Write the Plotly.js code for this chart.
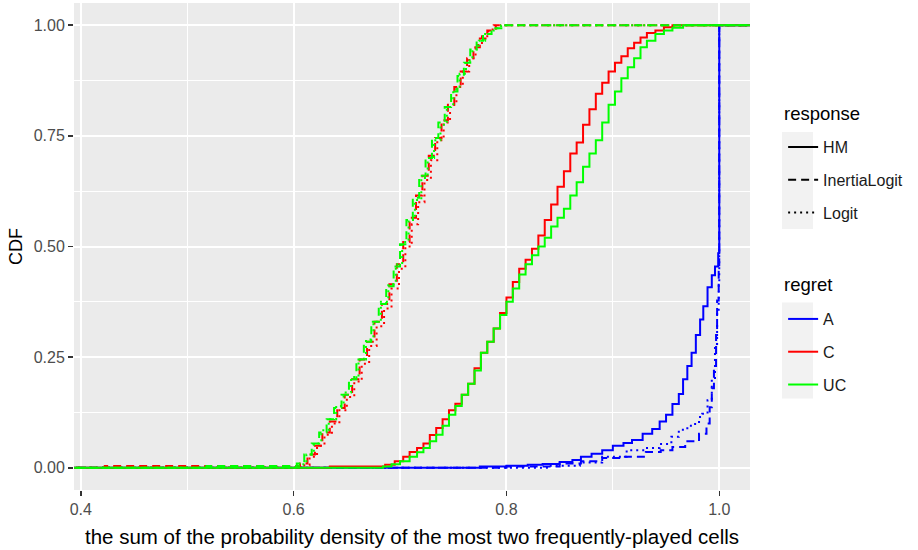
<!DOCTYPE html>
<html>
<head>
<meta charset="utf-8">
<script src="https://cdn.plot.ly/plotly-3.0.1.min.js"></script>
<style>html,body{margin:0;padding:0;background:#fff;}#chart{width:918px;height:550px;}</style>
</head>
<body>
<div id="chart"></div>
<script>
// ---- data (ECDF knots) ----
const responseLevels = ["HM", "InertiaLogit", "Logit"];
const regretLevels = ["A", "C", "UC"];
const xTickVals = [0.4, 0.6, 0.8, 1.0];
const xTickText = ["0.4", "0.6", "0.8", "1.0"];
const yTickVals = [0, 0.25, 0.5, 0.75, 1];
const yTickText = ["0.00", "0.25", "0.50", "0.75", "1.00"];

// A (blue)
const A_HM_x = [0.775, 0.800, 0.820, 0.834, 0.850, 0.862, 0.870, 0.880, 0.890, 0.900, 0.910, 0.918, 0.928, 0.937, 0.944, 0.950, 0.956, 0.962, 0.966, 0.970, 0.974, 0.978, 0.982, 0.985, 0.989, 0.993, 0.996, 0.999, 1.000];
const A_HM_y = [0.003, 0.005, 0.007, 0.009, 0.013, 0.018, 0.025, 0.032, 0.040, 0.050, 0.056, 0.063, 0.077, 0.088, 0.105, 0.120, 0.144, 0.167, 0.200, 0.230, 0.260, 0.300, 0.335, 0.365, 0.408, 0.435, 0.455, 0.485, 1.000];
const A_IL_x = [0.800, 0.850, 0.870, 0.890, 0.910, 0.931, 0.945, 0.956, 0.968, 0.981, 0.988, 0.991, 0.993, 0.995, 0.997, 0.998, 0.9995, 1.000];
const A_IL_y = [0.003, 0.010, 0.015, 0.022, 0.025, 0.036, 0.040, 0.047, 0.060, 0.077, 0.100, 0.137, 0.180, 0.227, 0.300, 0.378, 0.450, 1.000];
const A_LG_x = [0.840, 0.869, 0.890, 0.913, 0.930, 0.944, 0.955, 0.962, 0.970, 0.975, 0.981, 0.984, 0.989, 0.993, 0.996, 0.998, 0.9995, 1.000];
const A_LG_y = [0.005, 0.012, 0.025, 0.040, 0.045, 0.054, 0.070, 0.086, 0.095, 0.099, 0.115, 0.122, 0.153, 0.200, 0.280, 0.350, 0.420, 1.000];

// C (red)
const C_HM_x = [0.634, 0.686, 0.695, 0.703, 0.709, 0.716, 0.722, 0.728, 0.734, 0.740, 0.746, 0.752, 0.758, 0.764, 0.770, 0.776, 0.782, 0.788, 0.794, 0.800, 0.806, 0.812, 0.818, 0.824, 0.830, 0.836, 0.842, 0.848, 0.854, 0.860, 0.866, 0.872, 0.878, 0.884, 0.890, 0.896, 0.902, 0.908, 0.914, 0.920, 0.926, 0.932, 0.940, 0.948, 0.956];
const C_HM_y = [0.003, 0.007, 0.015, 0.025, 0.036, 0.045, 0.055, 0.074, 0.090, 0.110, 0.130, 0.145, 0.165, 0.190, 0.225, 0.260, 0.285, 0.315, 0.350, 0.385, 0.420, 0.450, 0.470, 0.495, 0.525, 0.560, 0.595, 0.635, 0.670, 0.710, 0.735, 0.775, 0.810, 0.845, 0.870, 0.895, 0.915, 0.930, 0.948, 0.960, 0.972, 0.982, 0.988, 0.995, 1.000];
const C_IL_x = [0.4225, 0.606, 0.613, 0.620, 0.627, 0.634, 0.641, 0.648, 0.655, 0.662, 0.669, 0.676, 0.683, 0.690, 0.697, 0.703, 0.709, 0.715, 0.721, 0.727, 0.733, 0.739, 0.745, 0.751, 0.757, 0.763, 0.769, 0.775, 0.782, 0.790];
const C_IL_y = [0.004, 0.010, 0.030, 0.050, 0.080, 0.105, 0.135, 0.165, 0.200, 0.245, 0.285, 0.330, 0.370, 0.415, 0.460, 0.510, 0.565, 0.615, 0.660, 0.705, 0.745, 0.785, 0.820, 0.860, 0.895, 0.925, 0.950, 0.970, 0.988, 1.000];
const C_LG_x = [0.608, 0.615, 0.622, 0.629, 0.636, 0.643, 0.650, 0.657, 0.664, 0.671, 0.678, 0.685, 0.692, 0.699, 0.705, 0.711, 0.717, 0.723, 0.729, 0.735, 0.741, 0.747, 0.753, 0.759, 0.765, 0.771, 0.777, 0.783, 0.788];
const C_LG_y = [0.006, 0.025, 0.050, 0.075, 0.100, 0.130, 0.160, 0.195, 0.235, 0.275, 0.320, 0.360, 0.405, 0.450, 0.500, 0.550, 0.600, 0.650, 0.695, 0.740, 0.780, 0.820, 0.860, 0.895, 0.925, 0.955, 0.975, 0.990, 1.000];

// UC (green)
const UC_HM_x = [0.684, 0.692, 0.700, 0.709, 0.716, 0.722, 0.728, 0.734, 0.740, 0.746, 0.752, 0.758, 0.764, 0.770, 0.776, 0.782, 0.788, 0.794, 0.800, 0.806, 0.812, 0.818, 0.824, 0.830, 0.836, 0.842, 0.848, 0.854, 0.860, 0.866, 0.872, 0.878, 0.884, 0.890, 0.896, 0.902, 0.908, 0.914, 0.920, 0.926, 0.932, 0.940, 0.948, 0.956, 0.966];
const UC_HM_y = [0.003, 0.008, 0.015, 0.025, 0.035, 0.045, 0.060, 0.075, 0.095, 0.120, 0.140, 0.165, 0.190, 0.220, 0.260, 0.285, 0.315, 0.345, 0.375, 0.405, 0.437, 0.460, 0.480, 0.500, 0.520, 0.545, 0.565, 0.585, 0.615, 0.645, 0.680, 0.710, 0.740, 0.780, 0.820, 0.850, 0.880, 0.905, 0.925, 0.950, 0.965, 0.980, 0.988, 0.994, 1.000];
const UC_IL_x = [0.518, 0.603, 0.610, 0.617, 0.624, 0.631, 0.638, 0.645, 0.652, 0.659, 0.666, 0.673, 0.680, 0.687, 0.694, 0.700, 0.706, 0.712, 0.718, 0.724, 0.730, 0.736, 0.742, 0.748, 0.754, 0.760, 0.766, 0.772, 0.778, 0.786, 0.797];
const UC_IL_y = [0.004, 0.010, 0.030, 0.055, 0.080, 0.110, 0.135, 0.165, 0.200, 0.245, 0.285, 0.330, 0.370, 0.410, 0.455, 0.505, 0.560, 0.610, 0.660, 0.700, 0.745, 0.780, 0.815, 0.850, 0.885, 0.915, 0.945, 0.965, 0.980, 0.993, 1.000];
const UC_LG_x = [0.605, 0.612, 0.619, 0.626, 0.633, 0.640, 0.647, 0.654, 0.661, 0.668, 0.675, 0.682, 0.689, 0.696, 0.702, 0.708, 0.714, 0.720, 0.726, 0.732, 0.738, 0.744, 0.750, 0.756, 0.762, 0.768, 0.774, 0.780, 0.788, 0.795];
const UC_LG_y = [0.008, 0.030, 0.055, 0.085, 0.110, 0.140, 0.170, 0.205, 0.245, 0.290, 0.330, 0.375, 0.415, 0.460, 0.510, 0.560, 0.605, 0.655, 0.700, 0.740, 0.775, 0.815, 0.855, 0.890, 0.920, 0.945, 0.965, 0.980, 0.993, 1.000];

// ---- styling ----
const regretColors = {A: "#0000FF", C: "#FF0000", UC: "#00FF00"};
const responseDash = {HM: "solid", InertiaLogit: "8px,5px", Logit: "2px,4px"};
const xRange = [0.3936, 1.0289];
const yRange = [-0.05, 1.05];
const FONT = "Liberation Sans, Arial, sans-serif";

const series = [
  {regret: "A", response: "HM", x: A_HM_x, y: A_HM_y},
  {regret: "A", response: "InertiaLogit", x: A_IL_x, y: A_IL_y},
  {regret: "A", response: "Logit", x: A_LG_x, y: A_LG_y},
  {regret: "C", response: "HM", x: C_HM_x, y: C_HM_y},
  {regret: "C", response: "InertiaLogit", x: C_IL_x, y: C_IL_y},
  {regret: "C", response: "Logit", x: C_LG_x, y: C_LG_y},
  {regret: "UC", response: "HM", x: UC_HM_x, y: UC_HM_y},
  {regret: "UC", response: "InertiaLogit", x: UC_IL_x, y: UC_IL_y},
  {regret: "UC", response: "Logit", x: UC_LG_x, y: UC_LG_y}
];

// ECDF padded to -Inf / +Inf (as stat_ecdf does): use values outside the axis range
const PAD_LO = xRange[0] - 1, PAD_HI = xRange[1] + 1;
const traces = series.map(s => ({
  type: "scatter", mode: "lines",
  x: [PAD_LO].concat(s.x, [PAD_HI]),
  y: [0].concat(s.y, [1]),
  line: {shape: "hv", color: regretColors[s.regret], width: 2, dash: responseDash[s.response]},
  showlegend: false, hoverinfo: "skip"
}));

// legend key traces
responseLevels.forEach(r => traces.push({
  type: "scatter", mode: "lines", x: [null], y: [null], name: r,
  legend: "legend", legendgroup: "resp_" + r,
  line: {color: "#000000", width: 2, dash: responseDash[r]}
}));
regretLevels.forEach(g => traces.push({
  type: "scatter", mode: "lines", x: [null], y: [null], name: g,
  legend: "legend2", legendgroup: "reg_" + g,
  line: {color: regretColors[g], width: 2}
}));

const LEG_X = 1.049;
const legendCommon = {
  xanchor: "left", yanchor: "top", x: LEG_X,
  bgcolor: "rgba(0,0,0,0)", borderwidth: 0,
  font: {family: FONT, size: 16, color: "#1A1A1A"},
  traceorder: "grouped", tracegroupgap: 9, itemwidth: 30
};

// legend key background boxes (ggplot legend.key fill), in paper coordinates
const keyBox = (y0, y1) => ({type: "rect", xref: "paper", yref: "paper", x0: 1.0473, x1: 1.0932, y0: y0, y1: y1,
  fillcolor: "#F2F2F2", line: {width: 0}, layer: "below"});

const layout = {
  width: 918, height: 550,
  margin: {l: 74, r: 168, t: 3, b: 60, pad: 0},
  paper_bgcolor: "#FFFFFF", plot_bgcolor: "#EBEBEB",
  font: {family: FONT, color: "#4D4D4D"},
  xaxis: {
    range: xRange, tickmode: "array", tickvals: xTickVals, ticktext: xTickText,
    ticks: "outside", ticklen: 5, tickwidth: 1.5, tickcolor: "#333333",
    tickfont: {family: FONT, size: 16, color: "#4D4D4D"},
    showgrid: true, gridcolor: "#FFFFFF", gridwidth: 2,
    minor: {tickmode: "array", tickvals: [0.5, 0.7, 0.9], showgrid: true, gridcolor: "#FFFFFF", gridwidth: 1.1, ticks: ""},
    zeroline: false, showline: false,
    title: {text: "the sum of the probability density of the most two frequently-played cells", font: {family: FONT, size: 20.5, color: "#000000"}, standoff: 12}
  },
  yaxis: {
    range: yRange, tickmode: "array", tickvals: yTickVals, ticktext: yTickText,
    ticks: "outside", ticklen: 5, tickwidth: 1.5, tickcolor: "#333333",
    tickfont: {family: FONT, size: 16, color: "#4D4D4D"},
    showgrid: true, gridcolor: "#FFFFFF", gridwidth: 2,
    minor: {tickmode: "array", tickvals: [0.125, 0.375, 0.625, 0.875], showgrid: true, gridcolor: "#FFFFFF", gridwidth: 1.1, ticks: ""},
    zeroline: false, showline: false,
    title: {text: "CDF", font: {family: FONT, size: 18, color: "#000000"}, standoff: 6}
  },
  legend: Object.assign({}, legendCommon, {y: 0.739}),
  legend2: Object.assign({}, legendCommon, {y: 0.386}),
  annotations: [
    {text: "response", xref: "paper", yref: "paper", x: 1.0473, y: 0.774, xanchor: "left", yanchor: "middle", showarrow: false,
     font: {family: FONT, size: 18.5, color: "#000000"}},
    {text: "regret", xref: "paper", yref: "paper", x: 1.0473, y: 0.421, xanchor: "left", yanchor: "middle", showarrow: false,
     font: {family: FONT, size: 18.5, color: "#000000"}}
  ],
  shapes: [keyBox(0.536, 0.735), keyBox(0.188, 0.385)],
  showlegend: true
};

Plotly.newPlot("chart", traces, layout, {displayModeBar: false, staticPlot: true});
</script>
</body>
</html>
